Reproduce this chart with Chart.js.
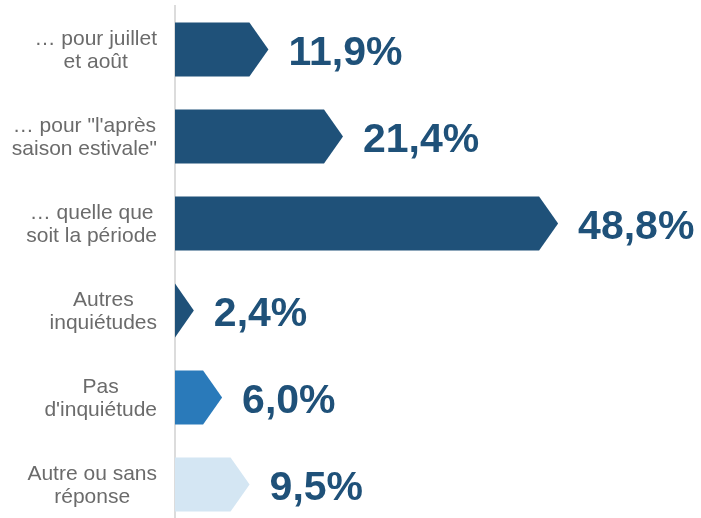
<!DOCTYPE html>
<html>
<head>
<meta charset="utf-8">
<script src="https://cdn.jsdelivr.net/npm/chart.js@4.4.0/dist/chart.umd.min.js"></script>
<style>
  html, body { margin: 0; padding: 0; background: #fff; overflow: hidden; }
  .wrap { position: relative; width: 701px; height: 528px; }
</style>
</head>
<body>
<div class="wrap"><canvas id="c" width="701" height="528"></canvas></div>
<script>
// categories (each one is a list of lines)
const categories = [
  ['… pour juillet', 'et août'],
  ['… pour "l\'après', 'saison estivale"'],
  ['… quelle que', 'soit la période'],
  ['Autres', 'inquiétudes'],
  ['Pas', 'd\'inquiétude'],
  ['Autre ou sans', 'réponse'],
];
const values = [11.9, 21.4, 48.8, 2.4, 6.0, 9.5];
const valueLabels = ['11,9%', '21,4%', '48,8%', '2,4%', '6,0%', '9,5%'];
const barColors = ['#1f5179', '#1f5179', '#1f5179', '#1f5179', '#2a7aba', '#d4e6f3'];

const FONT = '"Liberation Sans", Arial, Helvetica, sans-serif';
const TIP = 19;

// arrow-shaped bars drawn from the bar elements computed by Chart.js
const arrowBars = {
  id: 'arrowBars',
  afterDatasetsDraw(chart) {
    const ctx = chart.ctx;
    const meta = chart.getDatasetMeta(0);
    ctx.save();
    meta.data.forEach((bar, i) => {
      const { x, y, base, height } = bar.getProps(['x', 'y', 'base', 'height'], true);
      const top = y - height / 2, bot = y + height / 2;
      const neck = Math.max(base, x - TIP);
      ctx.beginPath();
      ctx.moveTo(base, top);
      ctx.lineTo(neck, top);
      ctx.lineTo(x, y);
      ctx.lineTo(neck, bot);
      ctx.lineTo(base, bot);
      ctx.closePath();
      ctx.fillStyle = barColors[i];
      ctx.fill();

      // value label
      ctx.font = 'bold 41px ' + FONT;
      ctx.fillStyle = '#1f5179';
      ctx.textAlign = 'left';
      ctx.textBaseline = 'alphabetic';
      ctx.fillText(valueLabels[i], x + 20, y + 15);
    });

    // category labels: block right-aligned, lines centered
    const ys = chart.scales.y;
    ctx.font = '21px ' + FONT;
    ctx.fillStyle = '#6b6b6b';
    ctx.textAlign = 'center';
    ctx.textBaseline = 'middle';
    categories.forEach((lines, i) => {
      const cy = ys.getPixelForTick(i);
      const w = Math.max(...lines.map(l => ctx.measureText(l).width));
      const cx = 157 - w / 2;
      const lh = 23.5;
      lines.forEach((l, k) => {
        ctx.fillText(l, cx, cy + 1 + (k - (lines.length - 1) / 2) * lh);
      });
    });
    ctx.restore();
  }
};

new Chart(document.getElementById('c'), {
  type: 'bar',
  data: {
    labels: categories,
    datasets: [{
      data: values,
      backgroundColor: 'rgba(0,0,0,0)',
      borderWidth: 0,
      categoryPercentage: 1,
      barPercentage: 0.62,
    }]
  },
  options: {
    indexAxis: 'y',
    responsive: false,
    animation: false,
    layout: { padding: { left: 167, top: 6, right: 0, bottom: 0 } },
    plugins: { legend: { display: false }, tooltip: { enabled: false } },
    scales: {
      x: {
        min: 0, max: 67,
        display: false,
      },
      y: {
        grid: { display: false },
        ticks: { display: false },
        border: { display: true, color: '#dcdcdc', width: 2 },
      }
    }
  },
  plugins: [arrowBars]
});
</script>
</body>
</html>
